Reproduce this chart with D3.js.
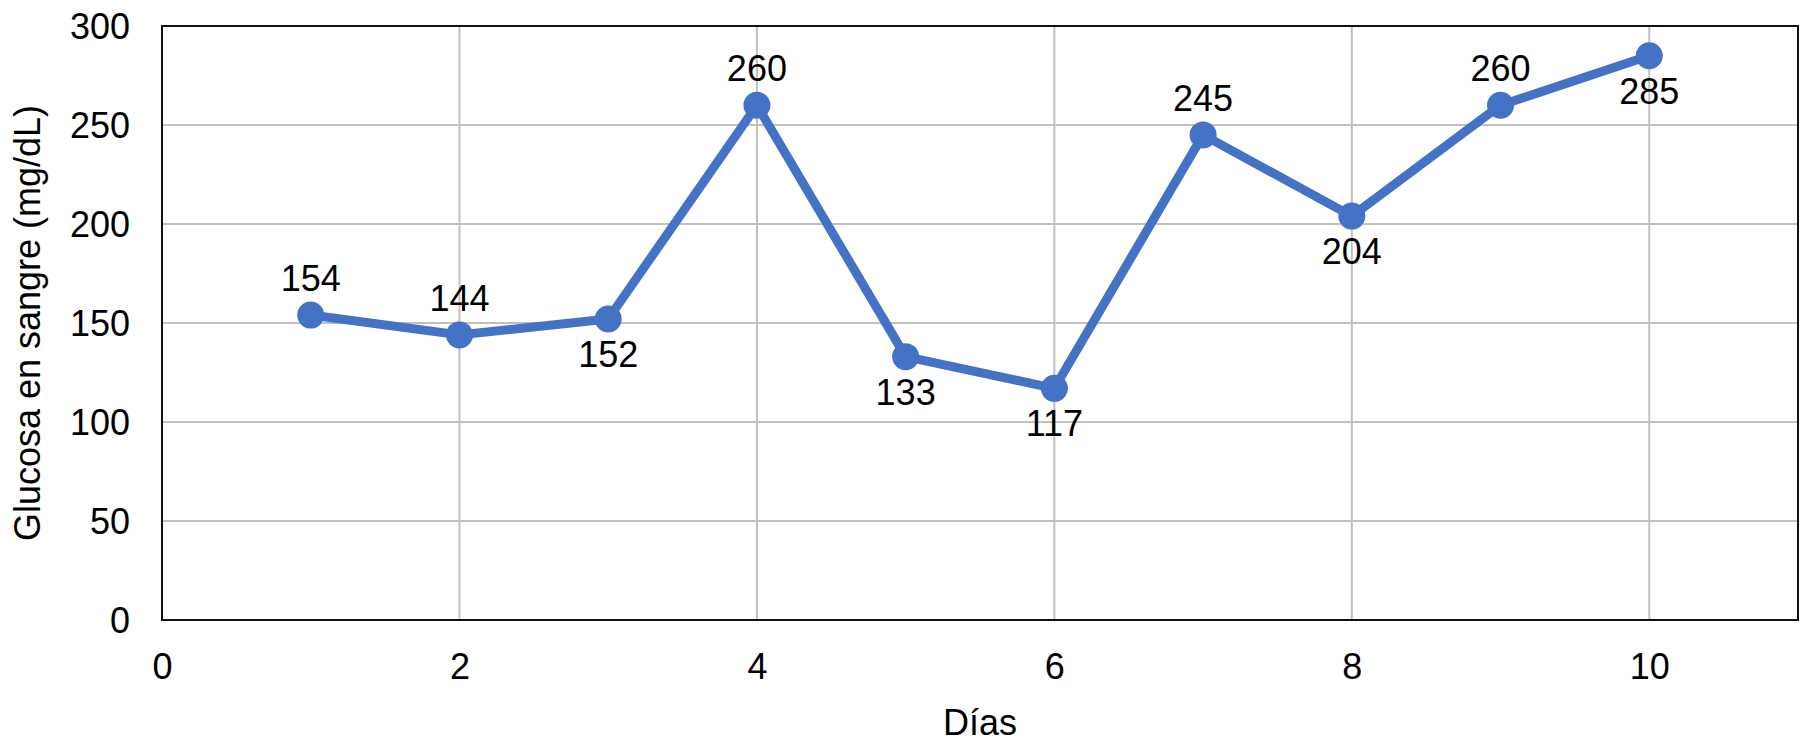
<!doctype html>
<html>
<head>
<meta charset="utf-8">
<style>
  body { margin: 0; background: #fff; }
  text { font-family: "Liberation Sans", Arial, Helvetica, sans-serif; }
</style>
</head>
<body>
<svg width="1800" height="753"></svg>
<script src="https://d3js.org/d3.v7.min.js"></script>
<script>
  // data
  const days = [1, 2, 3, 4, 5, 6, 7, 8, 9, 10];
  const glucose = [154, 144, 152, 260, 133, 117, 245, 204, 260, 285];
  const labelPos = ["above", "above", "below", "above", "below", "below", "above", "below", "above", "below"];
  const xTicks = [0, 2, 4, 6, 8, 10];
  const yTicks = [0, 50, 100, 150, 200, 250, 300];

  const svg = d3.select("svg");
  const m = {left: 162, right: 1798, top: 26, bottom: 620};

  const x = d3.scaleLinear().domain([0, 11]).range([m.left, m.right]);
  const y = d3.scaleLinear().domain([0, 300]).range([m.bottom, m.top]);

  const blue = "#4472c4";

  // grid
  svg.append("g").selectAll("line")
    .data(xTicks.filter(d => d > 0))
    .enter().append("line")
    .attr("x1", d => x(d)).attr("x2", d => x(d))
    .attr("y1", m.top).attr("y2", m.bottom)
    .attr("stroke", "#c0c0c0").attr("stroke-width", 2);

  svg.append("g").selectAll("line")
    .data(yTicks.filter(d => d > 0 && d < 300))
    .enter().append("line")
    .attr("x1", m.left).attr("x2", m.right)
    .attr("y1", d => y(d)).attr("y2", d => y(d))
    .attr("stroke", "#c0c0c0").attr("stroke-width", 2);

  // frame
  svg.append("rect")
    .attr("x", m.left).attr("y", m.top)
    .attr("width", m.right - m.left).attr("height", m.bottom - m.top)
    .attr("fill", "none").attr("stroke", "#111").attr("stroke-width", 2);

  // axes (labels only)
  const xAxis = svg.append("g")
    .attr("transform", "translate(0," + m.bottom + ")")
    .call(d3.axisBottom(x).tickValues(xTicks).tickSize(0).tickPadding(0));
  xAxis.select(".domain").remove();
  xAxis.selectAll("text")
    .attr("dy", null).attr("y", 59)
    .attr("font-size", 36).attr("font-family", null).attr("fill", "#000");

  const yAxis = svg.append("g")
    .attr("transform", "translate(" + m.left + ",0)")
    .call(d3.axisLeft(y).tickValues(yTicks).tickSize(0).tickPadding(32));
  yAxis.select(".domain").remove();
  yAxis.selectAll("text")
    .attr("dy", "0.36em")
    .attr("font-size", 36).attr("font-family", null).attr("fill", "#000");

  // titles
  svg.append("text")
    .attr("x", (m.left + m.right) / 2).attr("y", 735)
    .attr("text-anchor", "middle").attr("font-size", 36)
    .text("Días");

  svg.append("text")
    .attr("transform", "translate(40," + (m.top + m.bottom) / 2 + ") rotate(-90)")
    .attr("text-anchor", "middle").attr("font-size", 36)
    .text("Glucosa en sangre (mg/dL)");

  // series
  const pts = days.map((d, i) => ({x: d, y: glucose[i], pos: labelPos[i]}));

  svg.append("path")
    .datum(pts)
    .attr("fill", "none")
    .attr("stroke", blue)
    .attr("stroke-width", 9)
    .attr("stroke-linejoin", "round")
    .attr("d", d3.line().x(d => x(d.x)).y(d => y(d.y)));

  svg.append("g").selectAll("circle")
    .data(pts)
    .enter().append("circle")
    .attr("cx", d => x(d.x)).attr("cy", d => y(d.y))
    .attr("r", 13.5).attr("fill", blue);

  svg.append("g").selectAll("text")
    .data(pts)
    .enter().append("text")
    .attr("x", d => x(d.x))
    .attr("y", d => y(d.y) + (d.pos === "above" ? -24 : 48))
    .attr("text-anchor", "middle").attr("font-size", 36)
    .text(d => d.y);
</script>
</body>
</html>
